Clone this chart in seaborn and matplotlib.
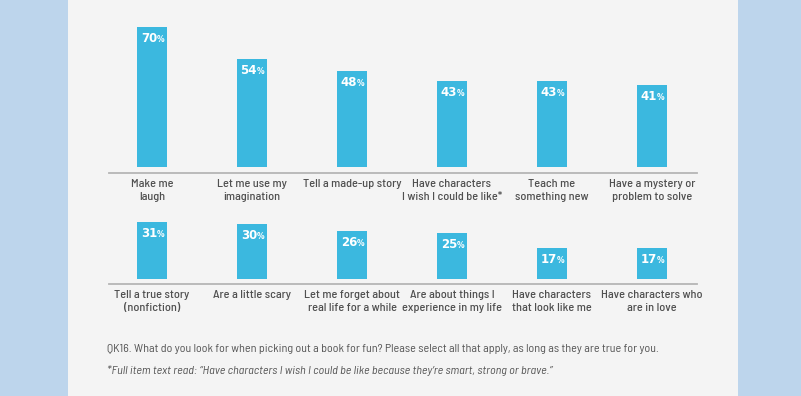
import matplotlib
matplotlib.use("Agg")
import matplotlib.pyplot as plt
from matplotlib.patches import Rectangle
import seaborn as sns

# Data
top_labels = ["Make me\nlaugh", "Let me use my\nimagination", "Tell a made-up story",
              "Have characters\nI wish I could be like*", "Teach me\nsomething new",
              "Have a mystery or\nproblem to solve"]
top_values = [70, 54, 48, 43, 43, 41]

bottom_labels = ["Tell a true story\n(nonfiction)", "Are a little scary",
                 "Let me forget about\nreal life for a while", "Are about things I\nexperience in my life",
                 "Have characters\nthat look like me", "Have characters who\nare in love"]
bottom_values = [31, 30, 26, 25, 17, 17]

footnote_1 = ("QK16. What do you look for when picking out a book for fun? "
              "Please select all that apply, as long as they are true for you.")
footnote_2 = ("*Full item text read: \u201cHave characters I wish I could be like "
              "because they\u2019re smart, strong or brave.\u201d")

bar_color = "#3bb8df"
side_color = "#bdd5ec"
panel_color = "#f4f4f4"
text_color = "#505050"
narrow = ["Barlow Semi Condensed", "Archivo Narrow", "DejaVu Sans"]

sns.set_style("white")
plt.rcParams["font.family"] = narrow

W, H = 801, 396
fig = plt.figure(figsize=(W / 100, H / 100), dpi=100)
fig.patch.set_facecolor(side_color)
fig.add_artist(Rectangle((68 / W, 0), (738 - 68) / W, 1, transform=fig.transFigure,
                         facecolor=panel_color, edgecolor="none", zorder=0))


def make_row(top_px, base_px, ymin, ymax, labels, values):
    ax = fig.add_axes([109 / W, (H - base_px) / H, 588 / W, (base_px - top_px) / H])
    ax.set_facecolor("none")
    sns.barplot(x=list(range(len(values))), y=values, color=bar_color, width=0.3,
                saturation=1, ax=ax)
    ax.set_xlim(-0.43, 5.45)
    ax.set_ylim(ymin, ymax)
    for p in ax.patches:
        p.set_edgecolor("none")
    for s in ["top", "right", "left"]:
        ax.spines[s].set_visible(False)
    ax.spines["bottom"].set_color("#b5b5b5")
    ax.spines["bottom"].set_linewidth(1.3)
    ax.set_yticks([])
    ax.set_xticks(range(len(labels)))
    ax.set_xticklabels(labels, fontsize=8.8, color=text_color, linespacing=1.35,
                       fontweight="medium")
    ax.tick_params(axis="x", length=0, pad=4.5)
    ax.set_xlabel("")
    ax.set_ylabel("")
    for i, v in enumerate(values):
        ax.annotate(str(v), xy=(i, v), xytext=(5, -12), textcoords="offset pixels",
                    ha="right", va="center", color="white", fontsize=8.5,
                    fontweight="bold", family="DejaVu Sans")
        ax.annotate("%", xy=(i, v), xytext=(5, -13), textcoords="offset pixels",
                    ha="left", va="center", color="white", fontsize=5.5,
                    fontweight="bold", family="DejaVu Sans")
    return ax


make_row(20, 173, -3, 73.5, top_labels, top_values)
make_row(215, 284, -2.7, 34.6, bottom_labels, bottom_values)

fig.text(107 / W, 1 - 349 / H, footnote_1, fontsize=8.7, color="#555555",
         ha="left", va="center")
fig.text(107 / W, 1 - 371 / H, footnote_2, fontsize=8.7, color="#555555",
         ha="left", va="center", style="italic")

fig.savefig("out.png", dpi=100, facecolor=fig.get_facecolor())
